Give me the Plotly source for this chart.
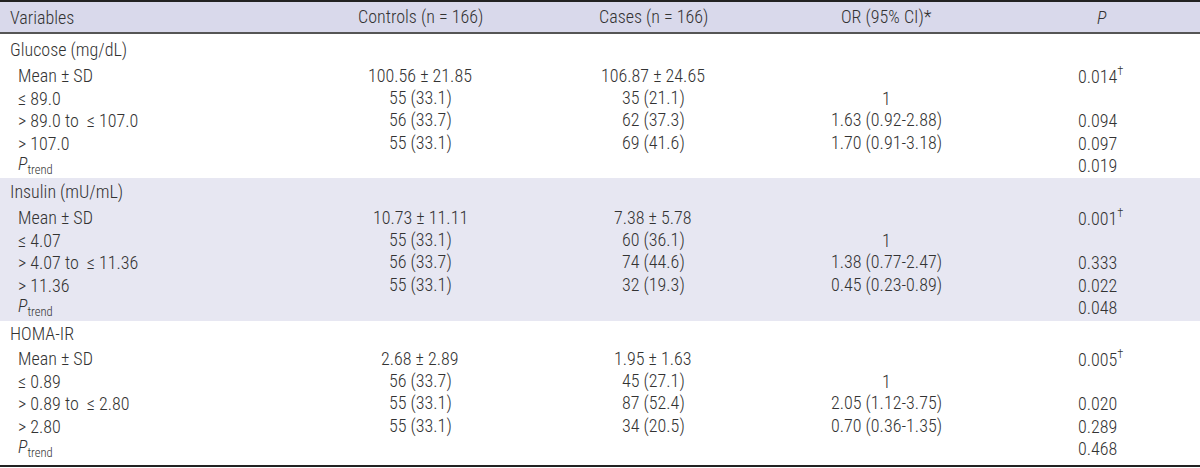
import plotly.graph_objects as go

# ---------------- data ----------------
headers = ["Variables", "Controls (n = 166)", "Cases (n = 166)", "OR (95% CI)*", "<i>P</i>"]
groups = ["Glucose (mg/dL)", "Insulin (mU/mL)", "HOMA-IR"]
sub_labels = [
    ["Mean ± SD", "≤ 89.0", "> 89.0 to  ≤ 107.0", "> 107.0", "<i>P</i><sub>trend</sub>"],
    ["Mean ± SD", "≤ 4.07", "> 4.07 to  ≤ 11.36", "> 11.36", "<i>P</i><sub>trend</sub>"],
    ["Mean ± SD", "≤ 0.89", "> 0.89 to  ≤ 2.80", "> 2.80", "<i>P</i><sub>trend</sub>"],
]
controls = [
    ["100.56 ± 21.85", "55 (33.1)", "56 (33.7)", "55 (33.1)", ""],
    ["10.73 ± 11.11", "55 (33.1)", "56 (33.7)", "55 (33.1)", ""],
    ["2.68 ± 2.89", "56 (33.7)", "55 (33.1)", "55 (33.1)", ""],
]
cases = [
    ["106.87 ± 24.65", "35 (21.1)", "62 (37.3)", "69 (41.6)", ""],
    ["7.38 ± 5.78", "60 (36.1)", "74 (44.6)", "32 (19.3)", ""],
    ["1.95 ± 1.63", "45 (27.1)", "87 (52.4)", "34 (20.5)", ""],
]
or_ci = [
    ["", "1", "1.63 (0.92-2.88)", "1.70 (0.91-3.18)", ""],
    ["", "1", "1.38 (0.77-2.47)", "0.45 (0.23-0.89)", ""],
    ["", "1", "2.05 (1.12-3.75)", "0.70 (0.36-1.35)", ""],
]
p_vals = [
    ["0.014<sup>†</sup>", "", "0.094", "0.097", "0.019"],
    ["0.001<sup>†</sup>", "", "0.333", "0.022", "0.048"],
    ["0.005<sup>†</sup>", "", "0.020", "0.289", "0.468"],
]

# ---------------- layout constants ----------------
W, H = 1200, 468
FONT = "Liberation Sans Narrow, Arial Narrow, Roboto Condensed, Liberation Sans, Arial, sans-serif"
FS = 18
TXT = "#333333"
group_y = [50, 192, 333]
sub_off = [25, 48, 70, 93, 115]
col_x = {"label": 8, "sub": 16, "controls": 420, "cases": 653, "or": 886, "p_head": 1102, "p": 1076}

fig = go.Figure()
fig.add_trace(go.Scatter(x=[0, W], y=[0, H], mode="markers", marker=dict(opacity=0),
                         hoverinfo="skip", showlegend=False))

shapes = [
    dict(type="rect", xref="x", yref="y", x0=0, x1=W, y0=0, y1=33, fillcolor="#d9d9eb", line_width=0, layer="below"),
    dict(type="rect", xref="x", yref="y", x0=0, x1=W, y0=178, y1=321, fillcolor="#e7e7f2", line_width=0, layer="below"),
    dict(type="line", xref="x", yref="y", x0=0, x1=W, y0=1, y1=1, line=dict(color="#222222", width=2)),
    dict(type="line", xref="x", yref="y", x0=0, x1=W, y0=33, y1=33, line=dict(color="#555555", width=2)),
    dict(type="line", xref="x", yref="y", x0=0, x1=W, y0=466, y1=466, line=dict(color="#222222", width=2)),
]

ann = []
def add(text, x, y, anchor):
    if text == "":
        return
    ann.append(dict(text=text, x=x, y=y, xref="x", yref="y", xanchor=anchor, yanchor="middle",
                    showarrow=False, font=dict(family=FONT, size=FS, color=TXT, weight=300)))

hy = 17
add(headers[0], col_x["label"], hy, "left")
add(headers[1], col_x["controls"], hy, "center")
add(headers[2], col_x["cases"], hy, "center")
add(headers[3], col_x["or"], hy, "center")
add(headers[4], col_x["p_head"], hy, "center")

for g in range(len(groups)):
    add(groups[g], col_x["label"], group_y[g], "left")
    for r in range(5):
        y = group_y[g] + sub_off[r]
        add(sub_labels[g][r], col_x["sub"], y, "left")
        add(controls[g][r], col_x["controls"], y, "center")
        add(cases[g][r], col_x["cases"], y, "center")
        add(or_ci[g][r], col_x["or"], y, "center")
        add(p_vals[g][r], col_x["p"], y, "left")

fig.update_layout(
    width=W, height=H, margin=dict(l=0, r=0, t=0, b=0),
    paper_bgcolor="white", plot_bgcolor="white",
    xaxis=dict(range=[0, W], visible=False, fixedrange=True),
    yaxis=dict(range=[H, 0], visible=False, fixedrange=True),
    shapes=shapes, annotations=ann, showlegend=False,
)
fig.write_html("out.html", config={"displayModeBar": False},
               post_script="document.body.style.margin='0';document.body.style.overflow='hidden';")
